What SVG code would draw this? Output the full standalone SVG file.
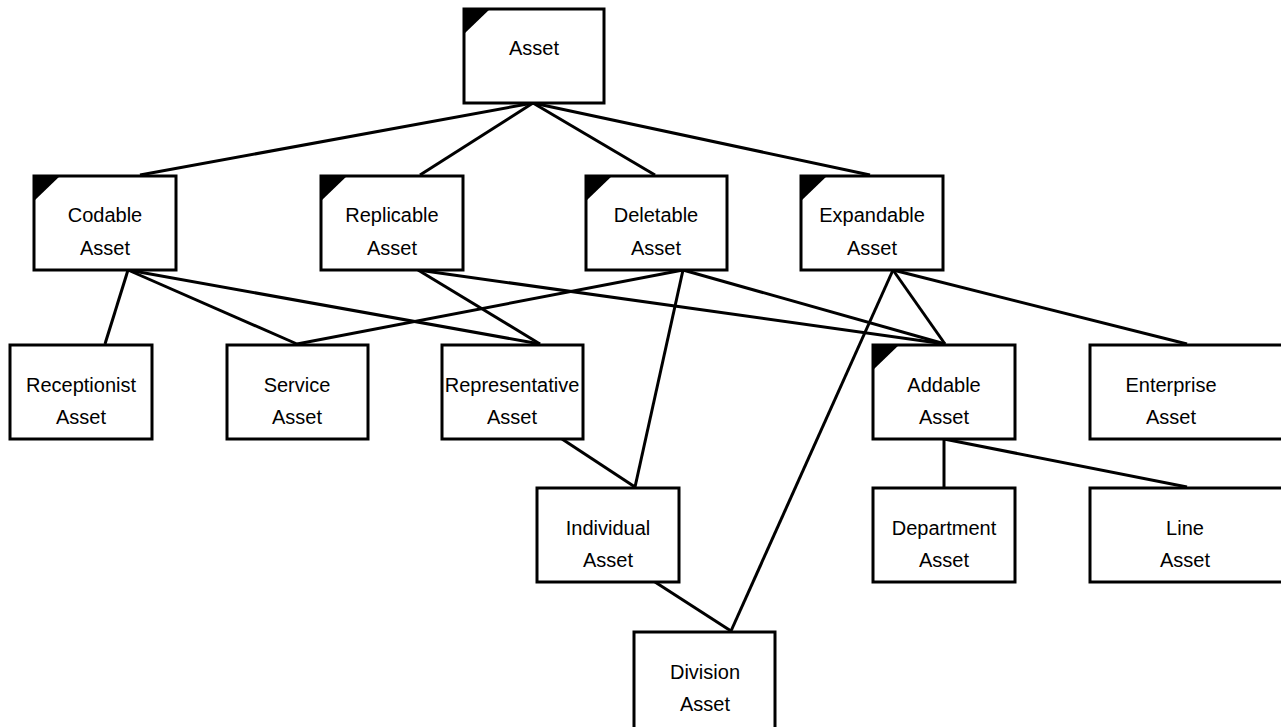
<svg xmlns="http://www.w3.org/2000/svg" width="1281" height="727" viewBox="0 0 1281 727">
<style>
.box{fill:#fff;stroke:#000;stroke-width:3}
.tri{fill:#000}
.lbl{font-family:"Liberation Sans",Arial,sans-serif;font-size:20px;fill:#000;text-anchor:middle}
.con line{stroke:#000;stroke-width:3}
</style>
<rect width="1281" height="727" fill="#fff"/>
<g id="connectors" class="con">
<line x1="533" y1="103" x2="140" y2="175"/>
<line x1="533" y1="103" x2="420" y2="175"/>
<line x1="533" y1="103" x2="655" y2="175"/>
<line x1="533" y1="103" x2="870" y2="175"/>
<line x1="128" y1="270" x2="105" y2="344"/>
<line x1="128" y1="270" x2="297" y2="344"/>
<line x1="128" y1="270" x2="540" y2="344"/>
<line x1="418" y1="270" x2="540" y2="344"/>
<line x1="418" y1="270" x2="945" y2="344"/>
<line x1="683" y1="270" x2="297" y2="344"/>
<line x1="683" y1="270" x2="635" y2="487"/>
<line x1="683" y1="270" x2="945" y2="344"/>
<line x1="893" y1="270" x2="945" y2="344"/>
<line x1="893" y1="270" x2="1187" y2="344"/>
<line x1="893" y1="270" x2="731" y2="631"/>
<line x1="562" y1="439" x2="635" y2="487"/>
<line x1="655" y1="582" x2="731" y2="631"/>
<line x1="944" y1="439" x2="944" y2="487"/>
<line x1="944" y1="439" x2="1187" y2="487"/>
</g>
<g id="asset"><rect class="box" x="464" y="9" width="140" height="94"/><path class="tri" d="M464 8 H491 L464 34 Z"/><text class="lbl" x="534" y="55">Asset</text></g>
<g id="codable"><rect class="box" x="34" y="176" width="142" height="94"/><path class="tri" d="M34 175 H61 L34 201 Z"/><text class="lbl" x="105" y="222">Codable</text><text class="lbl" x="105" y="255">Asset</text></g>
<g id="replicable"><rect class="box" x="321" y="176" width="142" height="94"/><path class="tri" d="M321 175 H348 L321 201 Z"/><text class="lbl" x="392" y="222">Replicable</text><text class="lbl" x="392" y="255">Asset</text></g>
<g id="deletable"><rect class="box" x="586" y="176" width="141" height="94"/><path class="tri" d="M586 175 H613 L586 201 Z"/><text class="lbl" x="656" y="222">Deletable</text><text class="lbl" x="656" y="255">Asset</text></g>
<g id="expandable"><rect class="box" x="801" y="176" width="142" height="94"/><path class="tri" d="M801 175 H828 L801 201 Z"/><text class="lbl" x="872" y="222">Expandable</text><text class="lbl" x="872" y="255">Asset</text></g>
<g id="receptionist"><rect class="box" x="10" y="345" width="142" height="94"/><text class="lbl" x="81" y="392">Receptionist</text><text class="lbl" x="81" y="424">Asset</text></g>
<g id="service"><rect class="box" x="227" y="345" width="141" height="94"/><text class="lbl" x="297" y="392">Service</text><text class="lbl" x="297" y="424">Asset</text></g>
<g id="representative"><rect class="box" x="442" y="345" width="141" height="94"/><text class="lbl" x="512" y="392">Representative</text><text class="lbl" x="512" y="424">Asset</text></g>
<g id="addable"><rect class="box" x="873" y="345" width="142" height="94"/><path class="tri" d="M873 344 H900 L873 370 Z"/><text class="lbl" x="944" y="392">Addable</text><text class="lbl" x="944" y="424">Asset</text></g>
<g id="enterprise"><rect class="box" x="1090" y="345" width="200" height="94"/><text class="lbl" x="1171" y="392">Enterprise</text><text class="lbl" x="1171" y="424">Asset</text></g>
<g id="individual"><rect class="box" x="537" y="488" width="142" height="94"/><text class="lbl" x="608" y="535">Individual</text><text class="lbl" x="608" y="567">Asset</text></g>
<g id="department"><rect class="box" x="873" y="488" width="142" height="94"/><text class="lbl" x="944" y="535">Department</text><text class="lbl" x="944" y="567">Asset</text></g>
<g id="line"><rect class="box" x="1090" y="488" width="200" height="94"/><text class="lbl" x="1185" y="535">Line</text><text class="lbl" x="1185" y="567">Asset</text></g>
<g id="division"><rect class="box" x="634" y="632" width="141" height="100"/><text class="lbl" x="705" y="679">Division</text><text class="lbl" x="705" y="711">Asset</text></g>
</svg>
